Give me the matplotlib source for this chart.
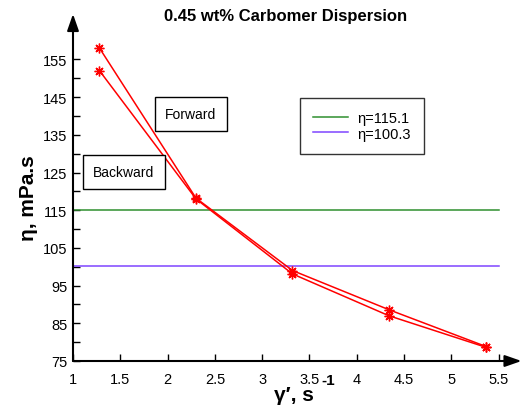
import matplotlib
matplotlib.use("Agg")
import matplotlib.pyplot as plt

plt.rcParams["font.family"] = ["Liberation Sans", "DejaVu Sans"]

# shear rate values (s^-1)
shear = [1.28, 2.30, 3.32, 4.34, 5.37]
# viscosity on the two sweeps (mPa.s)
eta_up = [158.0, 118.2, 99.0, 88.6, 78.8]
eta_down = [152.0, 118.0, 98.1, 87.0, 78.6]

ref_levels = [115.1, 100.3]
ref_labels = ["η=115.1", "η=100.3"]
ref_colors = ["#2f8f2f", "#7f45ff"]

x_ticks = [1, 1.5, 2, 2.5, 3, 3.5, 4, 4.5, 5, 5.5]
y_major = [75, 85, 95, 105, 115, 125, 135, 145, 155]
y_minor = [80, 90, 100, 110, 120, 130, 140, 150]

W, H = 522, 410
fig = plt.figure(figsize=(W / 100, H / 100), dpi=100)
left, bottom, right, top = 73, 362, 521.5, 15
ax = fig.add_axes([left / W, 1 - bottom / H, (right - left) / W, (bottom - top) / H])

px_x = 94.6
px_y = 3.77
ax.set_xlim(1, 1 + (right - left) / px_x)
ax.set_ylim(75, 75 + (bottom - top) / px_y)

for lvl, lab, col in zip(ref_levels, ref_labels, ref_colors):
    ax.plot([1, 5.5], [lvl, lvl], color=col, lw=1.1, label=lab)

for ys in (eta_up, eta_down):
    ax.plot(shear, ys, color="#ff0000", lw=1.1, marker=(8, 2, 0),
            markersize=7, markeredgewidth=1.0, clip_on=False)

# axes with arrow heads
for s in ax.spines.values():
    s.set_visible(False)
arrow = dict(arrowstyle="-|>,head_length=1.0,head_width=0.35", color="black",
             lw=1.5, shrinkA=0, shrinkB=0)
ax.annotate("", xy=(1, 0), xytext=(0, 0), xycoords="axes fraction",
            arrowprops=arrow, annotation_clip=False)
ax.annotate("", xy=(0, 1), xytext=(0, 0), xycoords="axes fraction",
            arrowprops=arrow, annotation_clip=False)

ax.set_xticks(x_ticks)
ax.set_xticklabels([f"{v:g}" for v in x_ticks])
ax.set_yticks(y_major)
ax.set_yticks(y_minor, minor=True)
ax.tick_params(axis="both", which="both", direction="in", width=1, length=5,
               labelsize=10.5, colors="black")
ax.tick_params(axis="x", pad=8)
ax.tick_params(axis="y", pad=4)

leg = ax.legend(loc="upper left", bbox_to_anchor=(300 / W, 1 - 99 / H),
                bbox_transform=fig.transFigure, borderaxespad=0, frameon=True,
                fancybox=False, edgecolor="black", fontsize=10.5,
                handlelength=2.4, borderpad=0.9, labelspacing=0.1,
                handletextpad=0.6)
leg.get_frame().set_linewidth(1.0)

box = dict(boxstyle="square,pad=0.75", fc="white", ec="black", lw=1)
fig.text(191 / W, 1 - 115 / H, "Forward", fontsize=10, ha="center", va="center", bbox=box)
fig.text(124 / W, 1 - 173 / H, "Backward", fontsize=10, ha="center", va="center", bbox=box)

fig.text(286 / W, 1 - 16 / H, "0.45 wt% Carbomer Dispersion", fontsize=12,
         fontweight="bold", ha="center", va="center")
fig.text(28 / W, 1 - 198 / H, "η, mPa.s", fontsize=15, fontweight="bold",
         rotation=90, ha="center", va="center")
fig.text(294 / W, 1 - 396 / H, "γ′, s", fontsize=15, fontweight="bold",
         ha="center", va="center")
fig.text(328 / W, 1 - 381 / H, "-1", fontsize=11, fontweight="bold",
         ha="center", va="center")

fig.savefig("out.png", dpi=100)
